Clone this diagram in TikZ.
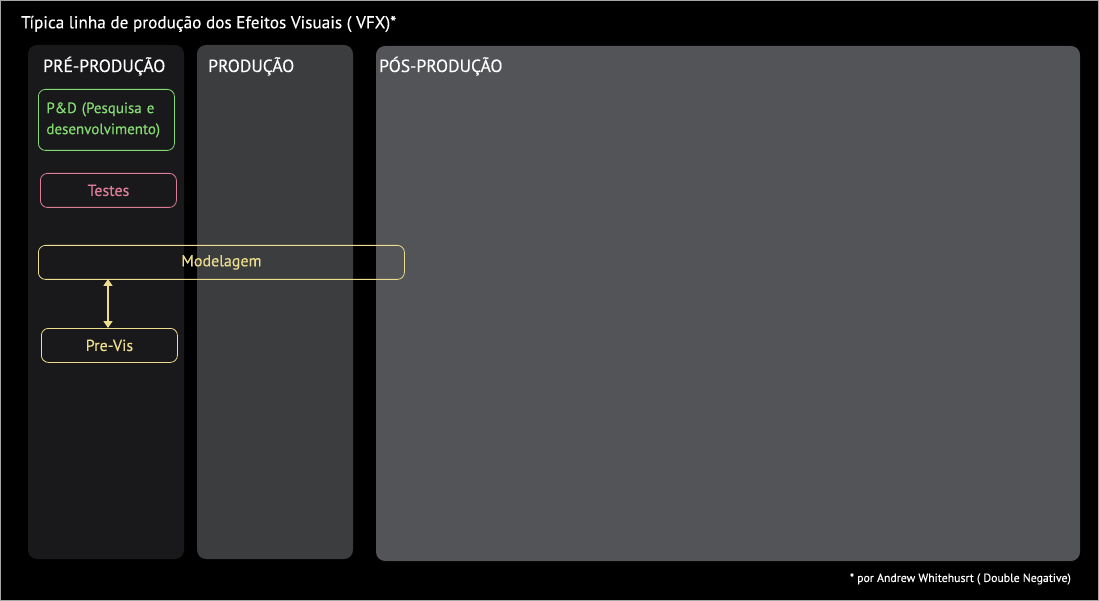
\documentclass[tikz,border=0pt]{standalone}
\usepackage{fontspec}
\setmainfont{PT Sans}[FakeBold=0.35]
\usetikzlibrary{arrows.meta}
\definecolor{colpre}{HTML}{19191B}
\definecolor{colprod}{HTML}{3C3D3F}
\definecolor{colpos}{HTML}{535457}
\definecolor{cgreen}{HTML}{86DA72}
\definecolor{cpink}{HTML}{DC7E98}
\definecolor{cyel}{HTML}{EDDD8E}
\begin{document}
\begin{tikzpicture}[x=1pt,y=-1pt,
  column/.style={rounded corners=9pt, draw=none},
  coltitle/.style={anchor=base west, text=white, font=\fontsize{17.6}{20}\selectfont, inner sep=0pt},
  stepbox/.style={draw, line width=0.8pt, rounded corners=7pt, fill=colpre, inner sep=0pt, font=\fontsize{16}{19}\selectfont}
]
\fill[black] (0,0) rectangle (1099,601);
\useasboundingbox (0,0) rectangle (1099,601);
\draw[gray!70, line width=1.2pt] (0.6,0.6) rectangle (1098.4,600.4);

\node[anchor=west, text=white, font=\fontsize{17.2}{20}\selectfont, inner sep=0pt] (title) at (21,24) {Típica linha de produção dos Efeitos Visuais ( VFX)*};

\fill[colpre, column] (28,45) rectangle (184,559);
\fill[colprod, column] (197,45) rectangle (353,559);
\fill[colpos, column] (376,46) rectangle (1080,561);

\node[coltitle] (tpre) at (43,72) {PRÉ-PRODUÇÃO};
\node[coltitle] (tprod) at (208,72) {PRODUÇÃO};
\node[coltitle] (tpos) at (379,72) {PÓS-PRODUÇÃO};

\node[stepbox, draw=cgreen, text=cgreen, font=\fontsize{15}{21}\selectfont, minimum width=136pt, minimum height=61pt, anchor=north west, align=left, text width=120pt] (pd) at (38,89) {P\&D (Pesquisa e\\desenvolvimento)};
\node[stepbox, draw=cpink, text=cpink, minimum width=136pt, minimum height=34pt, anchor=north west] (testes) at (40,173) {Testes};
\node[stepbox, draw=cyel, text=cyel, minimum width=366pt, minimum height=34pt, anchor=north west, fill=none] (model) at (38,245) {Modelagem};
\node[stepbox, draw=cyel, text=cyel, minimum width=136pt, minimum height=34pt, anchor=north west] (previs) at (41,328) {Pre-Vis};

\coordinate (atop) at (108,279);
\coordinate (abot) at (108,328);
\draw[cyel, line width=1.6pt, {Triangle[length=7pt,width=9pt]}-{Triangle[length=7pt,width=9pt]}] (atop) -- (abot);

\node[anchor=east, text=white, font=\fontsize{11.8}{14}\selectfont, inner sep=0pt] (foot) at (1071,579) {* por Andrew Whitehusrt ( Double Negative)};
\end{tikzpicture}
\end{document}
